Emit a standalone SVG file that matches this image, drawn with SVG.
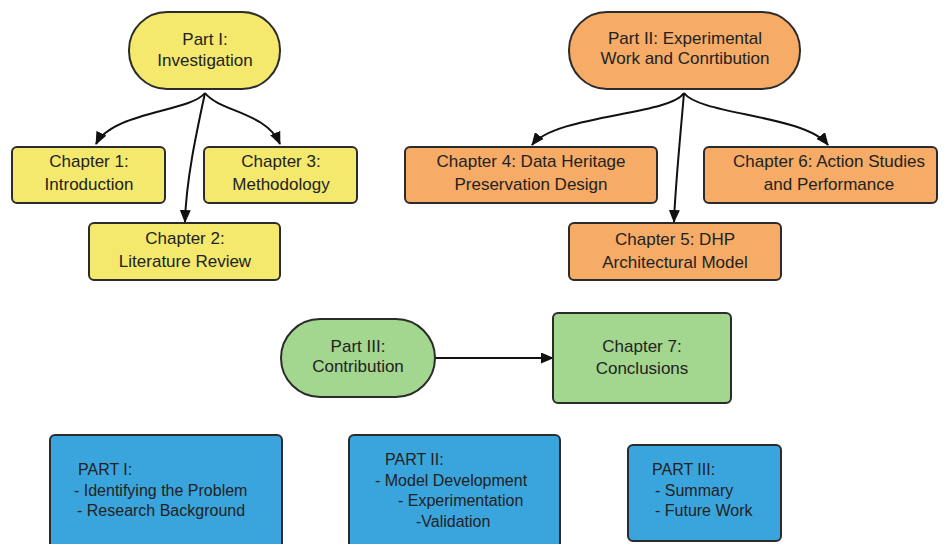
<svg xmlns="http://www.w3.org/2000/svg" width="947" height="544" viewBox="0 0 947 544">
<defs>
<marker id="ah" viewBox="0 0 13 11" refX="12" refY="5.5" markerWidth="13" markerHeight="11" markerUnits="userSpaceOnUse" orient="auto">
<path d="M0,0 L13,5.5 L0,11 Z" fill="#111"/>
</marker>
<style>
.n{stroke:#2b2b2b;stroke-width:2}
.y{fill:#f4e96c}.o{fill:#f6ab66}.g{fill:#a3d68e}.b{fill:#3aa5dd}
text{font-family:"Liberation Sans",Arial,sans-serif;font-size:17px;fill:#222}
.s{font-size:16px}
.c{text-anchor:middle}
.e{stroke:#111;stroke-width:2;fill:none;marker-end:url(#ah)}
</style>
</defs>
<rect width="947" height="544" fill="#fff"/>
<g id="connectors">
<path class="e" d="M205,93 C190,112 112,112 96,144"/>
<path class="e" d="M205,93 C220,112 266,112 280,144"/>
<path class="e" d="M205,93 C197,130 186,180 185,222"/>
<path class="e" d="M684,93 C670,115 555,115 532,145"/>
<path class="e" d="M684,93 C700,115 805,115 828,145"/>
<path class="e" d="M684,93 C680,140 675,190 674,222"/>
<path class="e" d="M435,358 L553,358"/>
</g>
<g id="part1"><rect class="n y" x="129" y="12" width="151" height="77" rx="38"/><text class="c" x="205" y="45">Part I:</text><text class="c" x="205" y="66">Investigation</text></g>
<g id="ch1"><rect class="n y" x="12" y="147" width="153" height="56" rx="5"/><text class="c" x="89" y="167">Chapter 1:</text><text class="c" x="89" y="190">Introduction</text></g>
<g id="ch3"><rect class="n y" x="204" y="147" width="153" height="56" rx="5"/><text class="c" x="281" y="167">Chapter 3:</text><text class="c" x="281" y="190">Methodology</text></g>
<g id="ch2"><rect class="n y" x="89" y="223" width="191" height="57" rx="5"/><text class="c" x="185" y="244">Chapter 2:</text><text class="c" x="185" y="267">Literature Review</text></g>
<g id="part2"><rect class="n o" x="569" y="12" width="231" height="77" rx="38"/><text class="c" x="685" y="44">Part II: Experimental</text><text class="c" x="685" y="64">Work and Conrtibution</text></g>
<g id="ch4"><rect class="n o" x="405" y="147" width="252" height="56" rx="5"/><text class="c" x="531" y="167">Chapter 4: Data Heritage</text><text class="c" x="531" y="190">Preservation Design</text></g>
<g id="ch6"><rect class="n o" x="704" y="147" width="233" height="56" rx="5"/><text class="c" x="829" y="167">Chapter 6: Action Studies</text><text class="c" x="829" y="190">and Performance</text></g>
<g id="ch5"><rect class="n o" x="569" y="223" width="212" height="57" rx="5"/><text class="c" x="675" y="245">Chapter 5: DHP</text><text class="c" x="675" y="268">Architectural Model</text></g>
<g id="part3"><rect class="n g" x="281" y="319" width="154" height="78" rx="39"/><text class="c" x="358" y="352">Part III:</text><text class="c" x="358" y="372">Contribution</text></g>
<g id="ch7"><rect class="n g" x="553" y="313" width="178" height="90" rx="5"/><text class="c" x="642" y="352">Chapter 7:</text><text class="c" x="642" y="374">Conclusions</text></g>
<g id="sum1"><rect class="n b" x="50" y="435" width="232" height="115" rx="5"/><text class="s" x="78" y="475">PART I:</text><text class="s" x="74" y="496">- Identifying the Problem</text><text class="s" x="77" y="516">- Research Background</text></g>
<g id="sum2"><rect class="n b" x="349" y="435" width="211" height="115" rx="5"/><text class="s" x="385" y="465">PART II:</text><text class="s" x="375" y="486">- Model Development</text><text class="s" x="398" y="506">- Experimentation</text><text class="s" x="416" y="527">-Validation</text></g>
<g id="sum3"><rect class="n b" x="628" y="445" width="153" height="96" rx="5"/><text class="s" x="652" y="475">PART III:</text><text class="s" x="655" y="496">- Summary</text><text class="s" x="655" y="516">-  Future Work</text></g>
</svg>
